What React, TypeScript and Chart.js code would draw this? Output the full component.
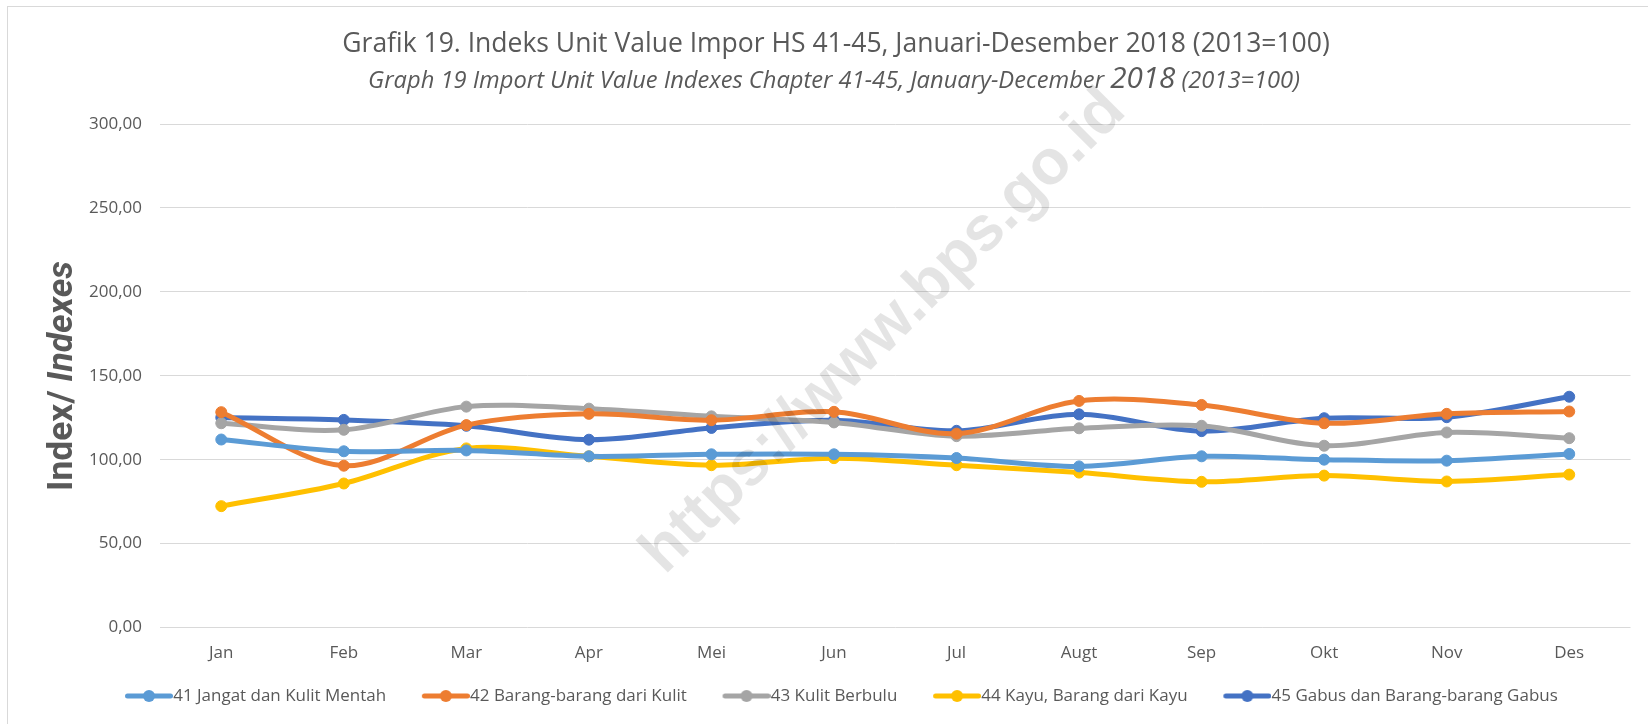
import React, { useEffect, useRef } from "react";
import { Chart, registerables } from "chart.js";

Chart.register(...registerables);

// ---------- data ----------
const months = ["Jan", "Feb", "Mar", "Apr", "Mei", "Jun", "Jul", "Augt", "Sep", "Okt", "Nov", "Des"];

const hs41 = [112.0, 105.0, 105.5, 102.0, 103.2, 103.2, 101.0, 96.0, 102.0, 100.0, 99.4, 103.4];
const hs42 = [128.3, 96.4, 120.6, 127.3, 123.5, 128.5, 115.5, 135.0, 132.6, 121.7, 127.3, 128.7];
const hs43 = [121.7, 117.8, 131.6, 130.4, 125.8, 122.2, 114.0, 118.7, 120.2, 108.3, 116.2, 112.8];
const hs44 = [72.3, 85.8, 106.7, 102.0, 96.7, 100.9, 96.7, 92.3, 86.8, 90.5, 87.0, 91.1];
const hs45 = [125.1, 123.7, 120.2, 111.9, 118.9, 123.5, 117.2, 127.0, 117.0, 124.7, 125.3, 137.5];

const seriesNames = [
  "41 Jangat dan Kulit Mentah",
  "42 Barang-barang dari Kulit",
  "43 Kulit Berbulu",
  "44 Kayu, Barang dari Kayu",
  "45 Gabus dan Barang-barang Gabus",
];
const seriesValues = [hs41, hs42, hs43, hs44, hs45];
const seriesColors = ["#5B9BD5", "#ED7D31", "#A5A5A5", "#FFC000", "#4472C4"];

const yMin = 0;
const yMax = 300;
const yStep = 50;

const TITLE = "Grafik 19. Indeks Unit Value Impor HS 41-45, Januari-Desember 2018 (2013=100)";
const SUB_A = "Graph 19 Import Unit Value Indexes Chapter 41-45, January-December ";
const SUB_B = "2018";
const SUB_C = " (2013=100)";
const Y_A = "Index/ ";
const Y_B = "Indexes";
const WATERMARK = "https://www.bps.go.id";

const TEXT = "#595959";
const GRID = "#d9d9d9";

export default function App() {
  const ref = useRef<HTMLCanvasElement>(null);

  useEffect(() => {
    const canvas = ref.current!;
    const m = document.createElement("canvas").getContext("2d")!;
    const fit = (font: (s: number) => string, text: string, target: number) => {
      m.font = font(100);
      return (100 * target) / m.measureText(text).width;
    };
    const OS = '"Open Sans", "DejaVu Sans", sans-serif';
    const RB = 'Roboto, "DejaVu Sans", sans-serif';
    const WF = '"Liberation Sans", Arial, sans-serif';

    const titleSize = fit((s) => `400 ${s}px ${OS}`, TITLE, 988);
    const tickSize = fit((s) => `400 ${s}px ${OS}`, "300,00", 53);
    const legendSize = fit((s) => `400 ${s}px ${OS}`, seriesNames[0], 213);

    // subtitle sizing (2018 drawn larger)
    m.font = `italic 400 20px ${OS}`;
    const wA0 = m.measureText(SUB_A).width;
    const wC0 = m.measureText(SUB_C).width;
    m.font = `italic 400 25px ${OS}`;
    const wB0 = m.measureText(SUB_B).width;
    const subScale = 932 / (wA0 + wB0 + wC0);
    const subSize = 20 * subScale;
    const subBig = 25 * subScale;

    // y title sizing
    m.font = `700 100px ${RB}`;
    const yA0 = m.measureText(Y_A).width;
    m.font = `italic 700 100px ${RB}`;
    const yB0 = m.measureText(Y_B).width;
    const ySize = (100 * 230) / (yA0 + yB0);

    const wmSize = fit((s) => `700 ${s}px ${WF}`, WATERMARK, 655);

    // legend symbols: line with a marker, transparent left part for spacing
    const V = 48; // visible symbol width
    const legendPad = 33.5 - legendSize / 2;
    const W = 36 + V - legendSize / 2 - legendPad;
    const imgW = Math.round(W + legendSize);
    const symbols = seriesColors.map((c) => {
      const cv = document.createElement("canvas");
      cv.width = imgW;
      cv.height = 14;
      const g = cv.getContext("2d")!;
      const x0 = imgW - V;
      g.strokeStyle = c;
      g.lineWidth = 5;
      g.lineCap = "round";
      g.beginPath();
      g.moveTo(x0 + 2.5, 7);
      g.lineTo(imgW - 2.5, 7);
      g.stroke();
      g.fillStyle = c;
      g.beginPath();
      g.arc(x0 + V / 2, 7, 6, 0, Math.PI * 2);
      g.fill();
      return cv;
    });

    const chartBottom = 627.5;
    const xAxisH = 35;
    const legendH = legendSize + legendPad + 10;
    const padBottom = 724 - chartBottom - xAxisH - legendH;
    const titlePadTop = 44 - titleSize * 0.6;
    const titlePadBottom = 124 - titlePadTop - titleSize * 1.2;

    const decor = {
      id: "decor",
      afterDatasetsDraw(chart: any) {
        const ctx = chart.ctx;
        ctx.save();
        ctx.translate(884, 332);
        ctx.rotate(-Math.PI / 4);
        ctx.font = `700 ${wmSize}px ${WF}`;
        ctx.fillStyle = "rgba(0,0,0,0.105)";
        ctx.textAlign = "center";
        ctx.textBaseline = "middle";
        ctx.fillText(WATERMARK, 0, 0);
        ctx.restore();
      },
      afterDraw(chart: any) {
        const ctx = chart.ctx;
        // subtitle
        ctx.save();
        ctx.fillStyle = TEXT;
        ctx.textBaseline = "alphabetic";
        ctx.textAlign = "left";
        ctx.font = `italic 400 ${subSize}px ${OS}`;
        const wA = ctx.measureText(SUB_A).width;
        const wC = ctx.measureText(SUB_C).width;
        ctx.font = `italic 400 ${subBig}px ${OS}`;
        const wB = ctx.measureText(SUB_B).width;
        let x = 834 - (wA + wB + wC) / 2;
        const base = 88;
        ctx.font = `italic 400 ${subSize}px ${OS}`;
        ctx.fillText(SUB_A, x, base);
        x += wA;
        ctx.font = `italic 400 ${subBig}px ${OS}`;
        ctx.fillText(SUB_B, x, base);
        x += wB;
        ctx.font = `italic 400 ${subSize}px ${OS}`;
        ctx.fillText(SUB_C, x, base);
        ctx.restore();

        // y axis title
        ctx.save();
        ctx.translate(72, 376);
        ctx.rotate(-Math.PI / 2);
        ctx.fillStyle = TEXT;
        ctx.textBaseline = "alphabetic";
        ctx.textAlign = "left";
        ctx.font = `700 ${ySize}px ${RB}`;
        const a = ctx.measureText(Y_A).width;
        ctx.font = `italic 700 ${ySize}px ${RB}`;
        const b = ctx.measureText(Y_B).width;
        let tx = -(a + b) / 2;
        ctx.font = `700 ${ySize}px ${RB}`;
        ctx.fillText(Y_A, tx, 0);
        tx += a;
        ctx.font = `italic 700 ${ySize}px ${RB}`;
        ctx.fillText(Y_B, tx, 0);
        ctx.restore();
      },
    };

    const chart = new Chart(canvas, {
      type: "line",
      data: {
        labels: months,
        datasets: seriesNames.map((name, i) => ({
          label: name,
          data: seriesValues[i],
          borderColor: seriesColors[i],
          backgroundColor: seriesColors[i],
          pointBackgroundColor: seriesColors[i],
          pointBorderColor: seriesColors[i],
          borderWidth: 5,
          pointRadius: 5.5,
          pointHoverRadius: 5.5,
          pointBorderWidth: 1,
          tension: 0.33,
          fill: false,
        })),
      },
      options: {
        responsive: false,
        devicePixelRatio: 1,
        animation: false,
        layout: { padding: { left: 35, right: 0, top: 0, bottom: padBottom } },
        scales: {
          x: {
            offset: true,
            grid: { display: false, drawTicks: false },
            border: { display: false },
            ticks: { color: TEXT, padding: 15, font: { family: OS, size: tickSize }, maxRotation: 0 },
            afterFit: (s: any) => {
              s.height = xAxisH;
            },
          },
          y: {
            min: yMin,
            max: yMax,
            grid: { color: GRID, lineWidth: 1, drawTicks: false },
            border: { display: false },
            ticks: {
              stepSize: yStep,
              color: TEXT,
              padding: 18,
              font: { family: OS, size: tickSize },
              callback: (v: any) => Number(v).toFixed(2).replace(".", ","),
            },
            afterFit: (s: any) => {
              s.width = 125;
            },
          },
        },
        plugins: {
          title: {
            display: true,
            text: TITLE,
            color: TEXT,
            font: { family: OS, size: titleSize, weight: "normal", lineHeight: 1.2 },
            padding: { top: titlePadTop, bottom: titlePadBottom },
          },
          legend: {
            display: true,
            position: "bottom",
            labels: {
              color: TEXT,
              font: { family: OS, size: legendSize },
              usePointStyle: true,
              pointStyleWidth: W,
              padding: legendPad,
              generateLabels: (ch: any) => {
                const items = (Chart.defaults as any).plugins.legend.labels.generateLabels(ch);
                return items.map((it: any, i: number) => ({ ...it, pointStyle: symbols[i], fontColor: TEXT }));
              },
            },
          },
          tooltip: { enabled: false },
        },
      },
      plugins: [decor],
    } as any);

    return () => chart.destroy();
  }, []);

  return (
    <div
      style={{
        position: "fixed",
        left: 0,
        top: 0,
        width: 1648,
        height: 724,
        overflow: "hidden",
        background: "#fff",
      }}
    >
      <div
        style={{
          position: "absolute",
          left: 7,
          top: 6,
          width: 1700,
          height: 800,
          border: "1px solid #d9d9d9",
          boxSizing: "border-box",
        }}
      />
      <canvas
        ref={ref}
        width={1637}
        height={724}
        style={{ position: "absolute", left: 0, top: 0, width: 1637, height: 724 }}
      />
    </div>
  );
}
